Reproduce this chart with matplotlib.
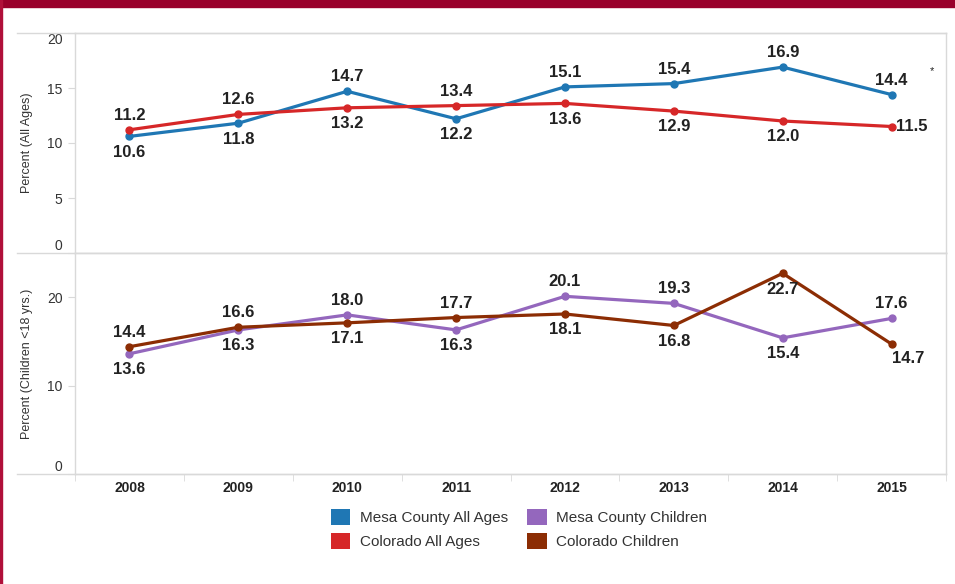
import matplotlib.pyplot as plt
from matplotlib.patches import Patch
from matplotlib.lines import Line2D

plt.rcParams['font.family'] = ['Liberation Sans', 'DejaVu Sans']

# data
years = ['2008', '2009', '2010', '2011', '2012', '2013', '2014', '2015']
mesa_all = [10.6, 11.8, 14.7, 12.2, 15.1, 15.4, 16.9, 14.4]
colorado_all = [11.2, 12.6, 13.2, 13.4, 13.6, 12.9, 12.0, 11.5]
mesa_children = [13.6, 16.3, 18.0, 16.3, 20.1, 19.3, 15.4, 17.6]
colorado_children = [14.4, 16.6, 17.1, 17.7, 18.1, 16.8, 22.7, 14.7]

# label placement: 'a' above, 'b' below, 'r' right
mesa_all_pos = ['b', 'b', 'a', 'b', 'a', 'a', 'a', 'a']
colorado_all_pos = ['a', 'a', 'b', 'a', 'b', 'b', 'b', 'r']
mesa_children_pos = ['b', 'b', 'a', 'b', 'a', 'a', 'b', 'a']
colorado_children_pos = ['a', 'a', 'b', 'a', 'b', 'b', 'b', 'br']

c_blue = '#1f77b4'
c_red = '#d62728'
c_purple = '#9467bd'
c_brown = '#8c2d04'
grid_c = '#d9d9d9'

fig = plt.figure(figsize=(9.55, 5.84), dpi=100)

# border decoration
fig.patches.append(plt.Rectangle((0, 1 - 7 / 584), 1, 7 / 584, transform=fig.transFigure,
                                 color='#99002b', zorder=0))
fig.patches.append(plt.Rectangle((0, 0), 2 / 955, 1, transform=fig.transFigure,
                                 color='#b0103a', zorder=0))

left = 75 / 955
right = 946 / 955
W = right - left
y_top = 1 - 33 / 584
y_mid = 1 - 253 / 584
y_bot = 1 - 474 / 584

ax1 = fig.add_axes([left, y_mid, W, y_top - y_mid])
ax2 = fig.add_axes([left, y_bot, W, y_mid - y_bot])

x = list(range(len(years)))


def draw_labels(ax, vals, pos):
    kw = dict(textcoords='offset points', fontsize=12, fontweight='bold', color='#222222')
    for i, (v, p) in enumerate(zip(vals, pos)):
        if p == 'a':
            ax.annotate(f'{v:.1f}', (i, v), xytext=(0, 5), ha='center', va='bottom', **kw)
        elif p == 'b':
            ax.annotate(f'{v:.1f}', (i, v), xytext=(0, -6), ha='center', va='top', **kw)
        elif p == 'r':
            ax.annotate(f'{v:.1f}', (i, v), xytext=(3, 0), ha='left', va='center', **kw)
        elif p == 'br':
            ax.annotate(f'{v:.1f}', (i, v), xytext=(0, -5), ha='left', va='top', **kw)


for ax in (ax1, ax2):
    ax.set_xlim(-0.5, len(years) - 0.5)
    for s in ax.spines.values():
        s.set_color(grid_c)
        s.set_linewidth(1)
    ax.tick_params(axis='y', length=5, color=grid_c, labelsize=10, labelcolor='#333333', pad=4)

ax1.plot(x, mesa_all, color=c_blue, lw=2.3, marker='o', ms=5, zorder=3)
ax1.plot(x, colorado_all, color=c_red, lw=2.3, marker='o', ms=5, zorder=3)
draw_labels(ax1, mesa_all, mesa_all_pos)
draw_labels(ax1, colorado_all, colorado_all_pos)
ax1.annotate('*', (7, mesa_all[7]), xytext=(29, 17), textcoords='offset points',
             ha='center', va='center', fontsize=8, color='#222222')
ax1.set_ylim(0, 20)
ax1.set_yticks([0, 5, 10, 15, 20])
ax1.set_xticks([])
ax1.set_ylabel('Percent (All Ages)', fontsize=9, color='#333333', labelpad=10)
for t in ax1.get_yticklabels():
    if t.get_text() == '0':
        t.set_va('bottom')
    elif t.get_text() == '20':
        t.set_va('top')

ax2.plot(x, mesa_children, color=c_purple, lw=2.3, marker='o', ms=5, zorder=3)
ax2.plot(x, colorado_children, color=c_brown, lw=2.3, marker='o', ms=5, zorder=3)
draw_labels(ax2, mesa_children, mesa_children_pos)
draw_labels(ax2, colorado_children, colorado_children_pos)
ax2.set_ylim(0, 25)
ax2.set_yticks([0, 10, 20])
ax2.set_ylabel('Percent (Children <18 yrs.)', fontsize=9, color='#333333', labelpad=10)
for t in ax2.get_yticklabels():
    if t.get_text() == '0':
        t.set_va('bottom')

ax2.set_xticks(x)
ax2.set_xticklabels(years, fontsize=10, fontweight='bold', color='#222222')
ax2.set_xticks([i + 0.5 for i in range(-1, len(years))], minor=True)
ax2.tick_params(axis='x', which='major', length=0, pad=5)
ax2.tick_params(axis='x', which='minor', length=5, color=grid_c)

# horizontal frame lines that extend left past the axis
for yy in (y_top, y_mid, y_bot):
    fig.add_artist(Line2D([17 / 955, right], [yy, yy], transform=fig.transFigure,
                          color=grid_c, lw=1))

handles = [Patch(facecolor=c_blue), Patch(facecolor=c_red),
           Patch(facecolor=c_purple), Patch(facecolor=c_brown)]
labels = ['Mesa County All Ages', 'Colorado All Ages',
          'Mesa County Children', 'Colorado Children']
fig.legend(handles, labels, ncol=2, loc='center', bbox_to_anchor=(519 / 955, 1 - 529 / 584),
           frameon=False, fontsize=11, handlelength=1.25, handleheight=1.25,
           columnspacing=1.3, handletextpad=0.6, labelspacing=0.5, labelcolor='#333333')

fig.savefig('out.png', dpi=100)
